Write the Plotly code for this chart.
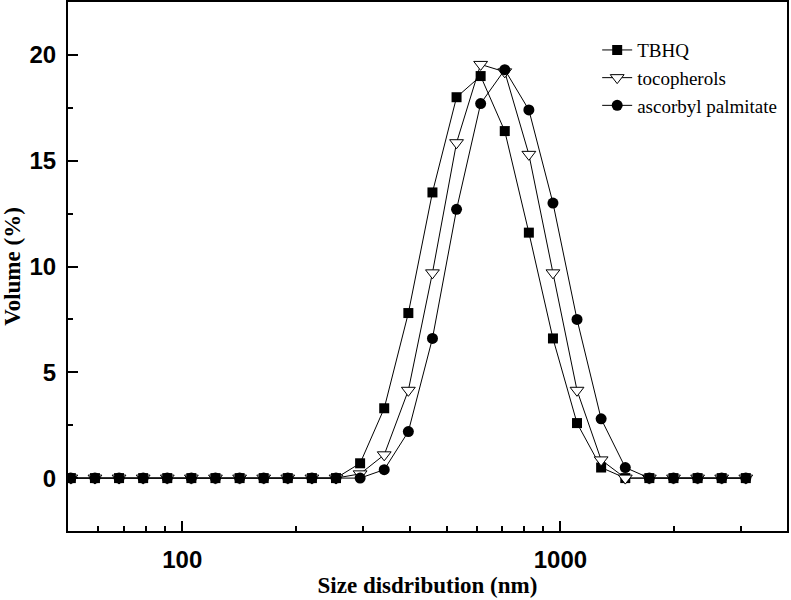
import plotly.graph_objects as go

# Size classes (nm)
sizes = [50.75, 58.77, 68.06, 78.82, 91.28, 105.7, 122.4, 141.8, 164.2, 190.1,
         220.2, 255.0, 295.3, 342.0, 396.1, 458.7, 531.2, 615.1, 712.4, 825.0,
         955.4, 1106, 1281, 1484, 1718, 1990, 2305, 2669, 3091]

# Volume (%)
tbhq = [0] * 12 + [0.7, 3.3, 7.8, 13.5, 18.0, 19.0, 16.4, 11.6, 6.6, 2.6, 0.5, 0] + [0] * 5
tocopherols = [0] * 12 + [0.2, 1.1, 4.15, 9.7, 15.85, 19.55, 19.2, 15.3, 9.7, 4.15, 0.86, 0] + [0] * 5
ascorbyl = [0] * 12 + [0, 0.4, 2.2, 6.6, 12.7, 17.7, 19.3, 17.4, 13.0, 7.5, 2.8, 0.5] + [0] * 5

series_names = ["TBHQ", "tocopherols", "ascorbyl palmitate"]

x_tickvals = [100, 1000]
x_ticktext = ["100", "1000"]
x_minor_vals = [60, 70, 80, 90, 200, 300, 400, 500, 600, 700, 800, 900, 2000, 3000]
y_tickvals = [0, 5, 10, 15, 20]
y_ticktext = ["0", "5", "10", "15", "20"]

fig = go.Figure()
fig.add_trace(go.Scatter(
    x=sizes, y=tbhq, name=series_names[0], mode="lines+markers",
    line=dict(color="black", width=1),
    marker=dict(symbol="square", size=10, color="black", line=dict(width=0)),
    legendgroup="a"))
fig.add_trace(go.Scatter(
    x=sizes, y=tocopherols, name=series_names[1], mode="lines+markers",
    line=dict(color="black", width=1),
    marker=dict(symbol="triangle-down", size=12, color="white", line=dict(color="black", width=1)),
    legendgroup="b"))
fig.add_trace(go.Scatter(
    x=sizes, y=ascorbyl, name=series_names[2], mode="lines+markers",
    line=dict(color="black", width=1),
    marker=dict(symbol="circle", size=11, color="black", line=dict(width=0)),
    legendgroup="c"))

axis_common = dict(
    showline=True, linewidth=2, linecolor="black", mirror=True,
    showgrid=False, zeroline=False, automargin=False,
    ticks="inside", ticklen=10, tickwidth=2, tickcolor="black",
    tickfont=dict(family="Liberation Sans", size=24, color="black", weight="bold"),
)

fig.update_layout(
    width=791, height=600,
    margin=dict(l=68, r=4, t=2, b=69, autoexpand=False),
    plot_bgcolor="white", paper_bgcolor="white",
    showlegend=True,
    legend=dict(
        x=0.736, y=0.945, xanchor="left", yanchor="top",
        font=dict(family="Liberation Serif", size=19, color="black"),
        bgcolor="rgba(0,0,0,0)", borderwidth=0, tracegroupgap=0,
    ),
    xaxis=dict(
        type="log", range=[1.6979, 3.599],
        tickmode="array", tickvals=x_tickvals, ticktext=x_ticktext,
        ticklabelstandoff=6,
        minor=dict(tickmode="array", tickvals=x_minor_vals, ticks="inside",
                   ticklen=5, tickwidth=2, tickcolor="black", showgrid=False),
        title=dict(text="Size disdribution (nm)",
                   font=dict(family="Liberation Serif", size=23, color="black", weight="bold"),
                   standoff=5),
        **axis_common,
    ),
    yaxis=dict(
        range=[-2.5, 22.5],
        tickmode="array", tickvals=y_tickvals, ticktext=y_ticktext,
        ticklabelstandoff=5,
        minor=dict(dtick=2.5, tick0=0, ticks="inside",
                   ticklen=5, tickwidth=2, tickcolor="black", showgrid=False),
        title=dict(text="Volume (%)",
                   font=dict(family="Liberation Serif", size=23, color="black", weight="bold"),
                   standoff=5),
        **axis_common,
    ),
)

fig.write_html("out.html", config={"displayModeBar": False},
               post_script="document.body.style.margin='0';")
